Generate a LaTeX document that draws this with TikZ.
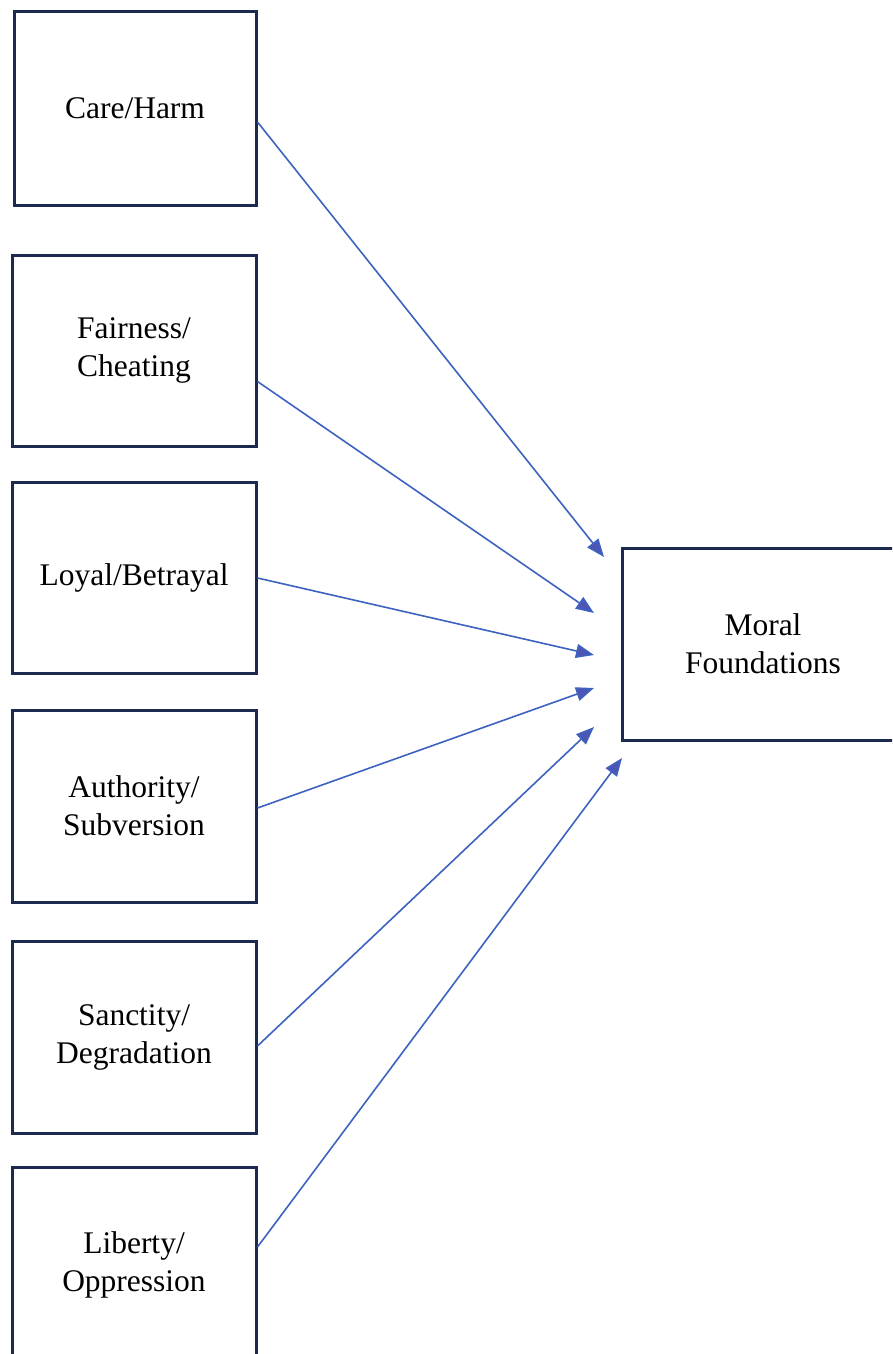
\documentclass[tikz,border=0pt]{standalone}
\usepackage{fontspec}
\setmainfont{Liberation Serif}
\usetikzlibrary{arrows.meta}
\definecolor{boxline}{HTML}{1B2A4E}
\definecolor{arrline}{HTML}{3D62C0}
\definecolor{tipfill}{HTML}{4F55B5}
\tikzset{
  fbox/.style={draw=boxline, line width=3pt, fill=white, inner sep=0pt, align=center,
    font=\fontsize{31.5}{38}\selectfont},
  link/.style={draw=arrline, line width=1.6pt,
    -{Triangle[length=18pt,width=14pt,fill=tipfill]}}
}
\begin{document}
\begin{tikzpicture}[x=1pt,y=-1pt]
\useasboundingbox (0,0) rectangle (892,1354);
\clip (0,0) rectangle (892,1354);
\fill[white] (0,0) rectangle (892,1354);
\node[fbox, minimum width=242pt, minimum height=193pt] (b1) at (135,108.5) {Care/Harm};
\node[fbox, minimum width=244pt, minimum height=191pt] (b2) at (134,350.5) {Fairness/\\Cheating};
\node[fbox, minimum width=244pt, minimum height=191pt] (b3) at (134,577.5) {Loyal/Betrayal};
\node[fbox, minimum width=244pt, minimum height=192pt] (b4) at (134,806) {Authority/\\Subversion};
\node[fbox, minimum width=244pt, minimum height=192pt] (b5) at (134,1037) {Sanctity/\\Degradation};
\node[fbox, minimum width=244pt, minimum height=195pt] (b6) at (134,1264.5) {Liberty/\\Oppression};
\node[fbox, minimum width=282pt, minimum height=192pt] (mf) at (763,644) {Moral\\Foundations};
\coordinate (t1) at (604,557);
\coordinate (t2) at (594,613);
\coordinate (t3) at (594,655);
\coordinate (t4) at (594,688);
\coordinate (t5) at (594,727);
\coordinate (t6) at (622,758);
\draw[link] ([yshift=-13.5pt]b1.east) -- (t1);
\draw[link] ([yshift=-31pt]b2.east) -- (t2);
\draw[link] ([yshift=-0.5pt]b3.east) -- (t3);
\draw[link] ([yshift=-2pt]b4.east) -- (t4);
\draw[link] ([yshift=-9pt]b5.east) -- (t5);
\draw[link] ([yshift=17.5pt]b6.east) -- (t6);
\end{tikzpicture}
\end{document}
